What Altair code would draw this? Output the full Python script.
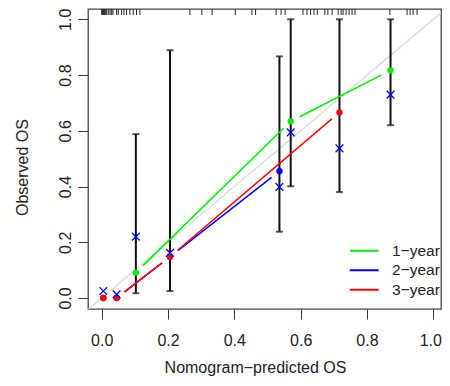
import math
import altair as alt
import pandas as pd

# ---------------- data ----------------
years = ["1−year", "2−year", "3−year"]
year_colors = ["#00ee00", "#0000ff", "#ff0000"]

# observed (KM) points per year, joined by lines (R type="b")
green_x = [0.103, 0.570, 0.871]
green_y = [0.091, 0.634, 0.817]
blue_x = [0.005, 0.045, 0.206, 0.536]
blue_y = [0.0, 0.0, 0.148, 0.455]
red_x = [0.005, 0.045, 0.206, 0.717]
red_y = [0.0, 0.0, 0.148, 0.666]

# bias-corrected estimates (blue x)
corr_x = [0.005, 0.045, 0.103, 0.206, 0.536, 0.570, 0.717, 0.871]
corr_y = [0.025, 0.013, 0.220, 0.162, 0.399, 0.594, 0.537, 0.730]

# error bars
err_x = [0.103, 0.206, 0.536, 0.570, 0.717, 0.871]
err_lo = [0.017, 0.025, 0.238, 0.401, 0.380, 0.620]
err_hi = [0.588, 0.889, 0.867, 1.0, 1.0, 1.0]

# rug of predicted values (top)
rug_x = [0.0, 0.002, 0.004, 0.006, 0.008, 0.011, 0.015, 0.02, 0.025, 0.03,
         0.034, 0.045, 0.05, 0.06, 0.067, 0.075, 0.085, 0.095, 0.105, 0.115,
         0.266, 0.302, 0.333, 0.403, 0.453, 0.464, 0.526, 0.541, 0.553,
         0.607, 0.619, 0.63, 0.64, 0.65, 0.673, 0.682, 0.695, 0.713, 0.722,
         0.728, 0.737, 0.746, 0.755, 0.764, 0.869, 0.921, 0.93, 0.939, 0.951]

x_ticks = [0.0, 0.2, 0.4, 0.6, 0.8, 1.0]
y_ticks = [0.0, 0.2, 0.4, 0.6, 0.8, 1.0]

# ---------------- layout ----------------
X_DOM = [-0.0413, 1.0232]
Y_DOM = [-0.0395, 1.037]
W, H = 353, 300
FONT = "Liberation Sans"
sx = W / (X_DOM[1] - X_DOM[0])
sy = H / (Y_DOM[1] - Y_DOM[0])
GAP = 10  # pixel gap around points, as in R type="b"

# ---------------- tables ----------------
seg_rows = []
for yr, xs_, ys_ in zip(years, [green_x, blue_x, red_x], [green_y, blue_y, red_y]):
    for i in range(len(xs_) - 1):
        dx = (xs_[i + 1] - xs_[i]) * sx
        dy = (ys_[i + 1] - ys_[i]) * sy
        L = math.hypot(dx, dy)
        if L <= 2 * GAP:
            continue
        f = GAP / L
        sid = f"{yr}-{i}"
        seg_rows.append({"year": yr, "seg": sid, "x": xs_[i] + f * (xs_[i + 1] - xs_[i]),
                         "y": ys_[i] + f * (ys_[i + 1] - ys_[i])})
        seg_rows.append({"year": yr, "seg": sid, "x": xs_[i + 1] - f * (xs_[i + 1] - xs_[i]),
                         "y": ys_[i + 1] - f * (ys_[i + 1] - ys_[i])})
segs = pd.DataFrame(seg_rows)

dot_rows = []
for yr, col, xs_, ys_ in zip(years, year_colors, [green_x, blue_x, red_x], [green_y, blue_y, red_y]):
    for a, b in zip(xs_, ys_):
        dot_rows.append({"year": yr, "col": col, "x": a, "y": b})
dots = pd.DataFrame(dot_rows)

corr = pd.DataFrame({"x": corr_x, "y": corr_y})
err = pd.DataFrame({"x": err_x, "lo": err_lo, "hi": err_hi})
caps = pd.DataFrame({"x": err_x + err_x, "y": err_lo + err_hi})
rug = pd.DataFrame({"x": rug_x})
diag = pd.DataFrame({"x": [-0.05, 1.05], "y": [-0.05, 1.05]})

xs = alt.Scale(domain=X_DOM, nice=False, zero=False)
ys = alt.Scale(domain=Y_DOM, nice=False, zero=False)

x_axis = alt.Axis(values=x_ticks, format=".1f", title="Nomogram−predicted OS",
                  grid=False, domain=False, tickSize=10, tickWidth=1, tickColor="#333",
                  labelFontSize=16, labelFont=FONT, labelColor="#222",
                  labelBaseline="alphabetic", labelPadding=26, labelFlush=False,
                  labelOffset={"condition": {"test": "datum.value == 1", "value": -3}, "value": 0},
                  titleFontSize=16, titleFont=FONT, titleFontWeight="normal", titleColor="#222",
                  titleX=167, titleY=63, titleBaseline="alphabetic", titleAlign="center",
                  titleAnchor="start")
y_axis = alt.Axis(values=y_ticks, format=".1f", title="Observed OS",
                  grid=False, domain=False, tickSize=10, tickWidth=1, tickColor="#333",
                  labelFontSize=16, labelFont=FONT, labelColor="#222",
                  labelAngle=270, labelAlign="center", labelBaseline="alphabetic",
                  labelPadding=8, labelFlush=False,
                  titleFontSize=16, titleFont=FONT, titleFontWeight="normal", titleColor="#222",
                  titleAngle=270, titleX=-66, titleY=158, titleBaseline="middle",
                  titleAlign="center", titleAnchor="start")

base_x = alt.X("x:Q", scale=xs, axis=x_axis)
base_y = alt.Y("y:Q", scale=ys, axis=y_axis)

diag_layer = alt.Chart(diag).mark_line(color="#d8d8d8", strokeWidth=1.2, clip=True).encode(
    x=base_x, y=base_y)

err_layer = alt.Chart(err).mark_rule(color="#111", strokeWidth=2).encode(
    x=alt.X("x:Q", scale=xs), y=alt.Y("lo:Q", scale=ys), y2="hi:Q")

cap_layer = alt.Chart(caps).mark_tick(color="#111", orient="horizontal", size=7, thickness=2).encode(
    x=alt.X("x:Q", scale=xs), y=alt.Y("y:Q", scale=ys))

line_layer = alt.Chart(segs).mark_line(strokeWidth=1.5).encode(
    x=alt.X("x:Q", scale=xs), y=alt.Y("y:Q", scale=ys), detail="seg:N",
    color=alt.Color("year:N", scale=alt.Scale(domain=years, range=year_colors),
                    legend=alt.Legend(title=None, orient="none", legendX=268.5, legendY=234,
                                      symbolType="M-2.9,0H2.9", symbolSize=100,
                                      symbolStrokeWidth=2, labelFontSize=15.5, labelFont=FONT,
                                      labelColor="#222", rowPadding=2.5, labelOffset=20,
                                      padding=0)))

dot_layer = alt.Chart(dots).mark_circle(size=40, opacity=1).encode(
    x=alt.X("x:Q", scale=xs), y=alt.Y("y:Q", scale=ys),
    color=alt.Color("col:N", scale=None))

corr_layer = alt.Chart(corr).mark_point(shape="M-1,-1L1,1M-1,1L1,-1", size=60, filled=False,
                                        color="#0000ff", strokeWidth=1.3, opacity=1).encode(
    x=alt.X("x:Q", scale=xs), y=alt.Y("y:Q", scale=ys))

rug_layer = alt.Chart(rug).mark_rule(color="#222", strokeWidth=1).encode(
    x=alt.X("x:Q", scale=xs), y=alt.value(0), y2=alt.value(6))

chart = alt.layer(diag_layer, err_layer, cap_layer, line_layer, dot_layer, corr_layer,
                  rug_layer).properties(
    width=W, height=H,
    padding={"left": 80, "top": 1, "right": 1, "bottom": 67},
    autosize=alt.AutoSizeParams(type="none"),
    background="white",
).configure_view(stroke="#444", strokeWidth=1.3)

chart.save("out.html", embed_options={"renderer": "svg", "actions": False})
